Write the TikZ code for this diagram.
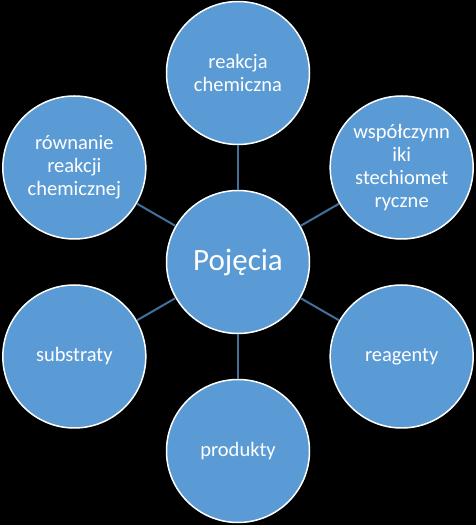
\documentclass[tikz,border=0pt]{standalone}
\usepackage{fontspec}
\setmainfont{Carlito}
\usepackage{tikz}

\definecolor{kolo}{HTML}{5B9BD5}
\definecolor{linia}{HTML}{41719C}

\begin{document}
\begin{tikzpicture}[x=1pt, y=1pt,
		pojecie/.style={circle, draw=white, line width=1.5pt, fill=kolo,
			minimum size=143pt, inner sep=0pt, align=center,
			text=white, font=\fontsize{20.5}{23}\selectfont},
		lacze/.style={draw=linia, line width=2pt}]
		\newcommand\odl{189}
		% czarne tlo
		\fill[black] (0, 0) rectangle (476, 525);
		\useasboundingbox (0, 0) rectangle (476, 525);
		% kolo w srodku
		\node[pojecie, font=\fontsize{31}{36}\selectfont] (pojecia) at (238, 263) {Pojęcia};
		% kola dookola
		\begin{scope}[shift={(238, 263)}]
			\node[pojecie] (reakcja) at (90: \odl) {reakcja\\chemiczna};
			\node[pojecie] (wspolczynniki) at (30: \odl) {współczynn\\iki\\stechiomet\\ryczne};
			\node[pojecie] (reagenty) at (-30: \odl) {reagenty};
			\node[pojecie] (produkty) at (-90: \odl) {produkty};
			\node[pojecie] (substraty) at (-150: \odl) {substraty};
			\node[pojecie] (rownanie) at (150: \odl) {równanie\\reakcji\\chemicznej};
		\end{scope}
		\foreach \n in {reakcja, wspolczynniki, reagenty, produkty, substraty, rownanie} {
			\draw[lacze] (pojecia) -- (\n);
		}
	\end{tikzpicture}
\end{document}
